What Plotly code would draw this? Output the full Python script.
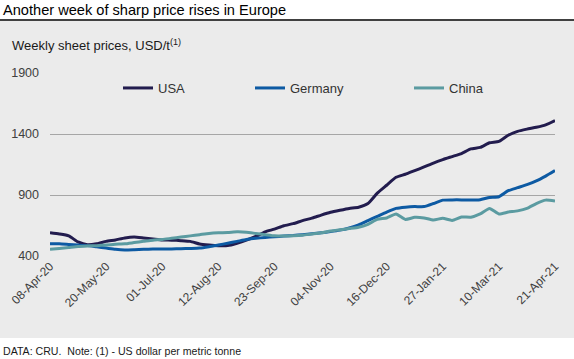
import plotly.graph_objects as go
import pandas as pd

dates = pd.date_range("2020-04-08", "2021-04-21", freq="7D")

usa = [590, 580, 565, 515, 492, 500, 520, 532, 548, 555, 548, 540, 532, 530, 526, 520, 498, 490,
       485, 486, 505, 530, 560, 598, 620, 648, 665, 690, 710, 735, 758, 775, 790, 800, 830, 915,
       980, 1045, 1070, 1100, 1130, 1162, 1190, 1215, 1240, 1278, 1290, 1328, 1340, 1390, 1422,
       1440, 1455, 1475, 1510]
germany = [500, 500, 495, 490, 485, 475, 465, 455, 450, 452, 455, 457, 458, 458, 460, 462, 465, 476,
           490, 505, 520, 535, 545, 552, 558, 563, 568, 575, 582, 590, 600, 612, 630, 655, 690, 725,
           760, 790, 800, 805, 805, 830, 858, 860, 860, 858, 862, 880, 886, 935, 960, 985, 1015,
           1055, 1100]
china = [455, 462, 470, 478, 482, 485, 490, 496, 500, 510, 520, 530, 535, 545, 555, 565, 575, 585,
         590, 592, 598, 595, 585, 575, 565, 563, 565, 570, 580, 590, 605, 615, 625, 635, 660, 700,
         712, 744, 700, 717, 712, 695, 709, 692, 720, 718, 745, 790, 745, 760, 770, 790, 830, 858, 850]

series = [("USA", usa, "#221c4e"), ("Germany", germany, "#0d5aa3"), ("China", china, "#5b9ba1")]
legend_px = [118, 250, 409]

tick_idx = list(range(0, 55, 6))
tick_vals = [dates[i] for i in tick_idx]
tick_text = [d.strftime("%d-%b-%y") for d in tick_vals]
y_ticks = [400, 900, 1400, 1900]

W, H = 574, 359
L, R, T, B = 50, 555, 73, 256
PW, PH = R - L, B - T


def px_x(px):
    return (px - L) / PW


def px_y(py):
    return (B - py) / PH


fig = go.Figure()
for k, (name, vals, col) in enumerate(series):
    fig.add_trace(go.Scatter(
        x=dates, y=vals, name=name, mode="lines",
        line=dict(color=col, width=3, shape="spline", smoothing=0.5),
        legend="legend" if k == 0 else f"legend{k+1}",
    ))

font = "Liberation Sans, Arial, sans-serif"
leg_common = dict(orientation="h", xref="paper", yref="paper", xanchor="left",
                  yanchor="middle", bgcolor="rgba(0,0,0,0)", borderwidth=0,
                  font=dict(family=font, size=13, color="#333333"))
layout_legs = {}
for k, px in enumerate(legend_px):
    key = "legend" if k == 0 else f"legend{k+1}"
    layout_legs[key] = dict(x=px_x(px), y=px_y(88), **leg_common)

fig.update_layout(
    width=W, height=H,
    margin=dict(l=L, r=W - R, t=T, b=H - B, autoexpand=False),
    paper_bgcolor="white", plot_bgcolor="rgba(0,0,0,0)",
    font=dict(family=font, size=12, color="#404040"),
    showlegend=True,
    **layout_legs,
    xaxis=dict(range=[dates[0], dates[-1]], tickvals=tick_vals, ticktext=tick_text,
               tickangle=-45, showgrid=False, zeroline=False, showline=False, automargin=False,
               tickfont=dict(size=12, color="#404040"), ticks=""),
    yaxis=dict(range=[400, 1900], tickvals=y_ticks, showgrid=True, gridcolor="#a6a6a6",
               gridwidth=1, zeroline=False, showline=False, ticks="", automargin=False,
               tickfont=dict(size=12.5, color="#404040"), ticklabelstandoff=10),
    shapes=[
        dict(type="rect", xref="paper", yref="paper", x0=px_x(0), x1=px_x(W),
             y0=px_y(338), y1=px_y(21), fillcolor="#ebebeb", line_width=0, layer="below"),
        dict(type="line", xref="paper", yref="paper", x0=px_x(0), x1=px_x(W),
             y0=px_y(20), y1=px_y(20), line=dict(color="black", width=1.5)),
    ],
    annotations=[
        dict(text="Another week of sharp price rises in Europe", xref="paper", yref="paper",
             x=px_x(1), y=px_y(10), xanchor="left", yanchor="middle", showarrow=False,
             font=dict(family=font, size=14.6, color="#000000")),
        dict(text="Weekly sheet prices, USD/t<sup>(1)</sup>", xref="paper", yref="paper",
             x=px_x(10), y=px_y(45), xanchor="left", yanchor="middle", showarrow=False,
             font=dict(family=font, size=13, color="#1a1a1a")),
        dict(text="DATA: CRU.  Note: (1) - US dollar per metric tonne", xref="paper", yref="paper",
             x=px_x(1), y=px_y(351), xanchor="left", yanchor="middle", showarrow=False,
             font=dict(family=font, size=10.6, color="#1a1a1a")),
    ],
)

fig.write_html(
    "out.html",
    config={"displayModeBar": False},
    post_script="document.body.style.margin='0';document.body.style.padding='0';"
                "document.body.style.overflow='hidden';",
)
